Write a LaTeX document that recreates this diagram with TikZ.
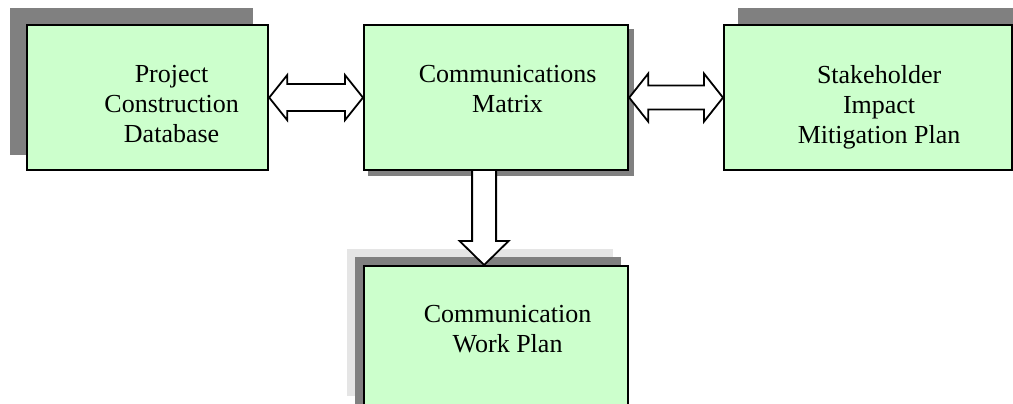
\documentclass[tikz,border=0pt]{standalone}
\usepackage{fontspec}
\setmainfont{Liberation Serif}
\usetikzlibrary{calc,backgrounds}
\definecolor{boxgreen}{HTML}{CCFFCC}
\definecolor{shadowgray}{HTML}{808080}
\definecolor{lightshadow}{HTML}{E5E5E5}
\begin{document}
\begin{tikzpicture}[x=1pt,y=-1pt,
  box/.style={draw=black,line width=2.2pt,fill=boxgreen,minimum height=145pt,inner sep=0pt,anchor=north west},
  lbl/.style={font=\fontsize{26}{30}\selectfont,align=center,anchor=north,inner sep=0pt},
  blockarrow/.style={draw=black,fill=white,line width=1.8pt,line join=miter},
  darkshadow/.style={fill=shadowgray},
  paleshadow/.style={fill=lightshadow}]
\useasboundingbox (0,0) rectangle (1013,404);
\clip (0,0) rectangle (1013,404);
% boxes
\node[box,minimum width=241pt] (b1) at (26,24) {};
\node[box,minimum width=264pt] (b2) at (363,24) {};
\node[box,minimum width=288pt] (b3) at (723,24) {};
\node[box,minimum width=264pt] (b4) at (363,265) {};
% shadows
\begin{pgfonlayer}{background}
\clip (0,0) rectangle (1013,404);
\fill[darkshadow] ([shift={(-16,-16)}]b1.south west) rectangle ([shift={(-16,-16)}]b1.north east);
\fill[darkshadow] ([shift={(5,5)}]b2.south west) rectangle ([shift={(5,5)}]b2.north east);
\fill[darkshadow] ([shift={(15,-16)}]b3.south west) rectangle ([shift={(15,-16)}]b3.north east);
\fill[paleshadow] ([shift={(-16,-16)}]b4.south west) rectangle ([shift={(-16,-16)}]b4.north east);
\fill[darkshadow] ([shift={(-8,-8)}]b4.south west) rectangle ([shift={(-8,-8)}]b4.north east);
\end{pgfonlayer}
% texts
\node[lbl] (t1) at ($(b1.north)+(24,41)$) {Project\\Construction\\Database};
\node[lbl] (t2) at ($(b2.north)+(11.5,41)$) {Communications\\Matrix};
\node[lbl] (t3) at ($(b3.north)+(11,41)$) {Stakeholder\\Impact\\Mitigation Plan};
\node[lbl] (t4) at ($(b4.north)+(11.5,40)$) {Communication\\Work Plan};
% arrows
\draw[blockarrow] let \p1=(b1.east), \p2=(b2.west) in
  (\p1) -- (\x1+18pt,\y1+22.5pt) -- (\x1+18pt,\y1+13.5pt) -- (\x2-18pt,\y1+13.5pt) -- (\x2-18pt,\y1+22.5pt)
  -- (\p2) -- (\x2-18pt,\y1-22.5pt) -- (\x2-18pt,\y1-13.5pt) -- (\x1+18pt,\y1-13.5pt) -- (\x1+18pt,\y1-22.5pt) -- cycle;
\draw[blockarrow] let \p1=(b2.east), \p2=(b3.west) in
  (\p1) -- (\x1+19pt,\y1+24pt) -- (\x1+19pt,\y1+12pt) -- (\x2-19pt,\y1+12pt) -- (\x2-19pt,\y1+24pt)
  -- (\p2) -- (\x2-19pt,\y1-24pt) -- (\x2-19pt,\y1-12pt) -- (\x1+19pt,\y1-12pt) -- (\x1+19pt,\y1-24pt) -- cycle;
\draw[blockarrow] let \p1=($(b2.south)+(-12,0)$), \p2=($(b4.north)+(-12,0)$) in
  (\x1-12pt,\y1) -- (\x1-12pt,\y2+24pt) -- (\x1-24.5pt,\y2+24pt) -- (\x1,\y2) -- (\x1+24.5pt,\y2+24pt)
  -- (\x1+12pt,\y2+24pt) -- (\x1+12pt,\y1);
\end{tikzpicture}
\end{document}
